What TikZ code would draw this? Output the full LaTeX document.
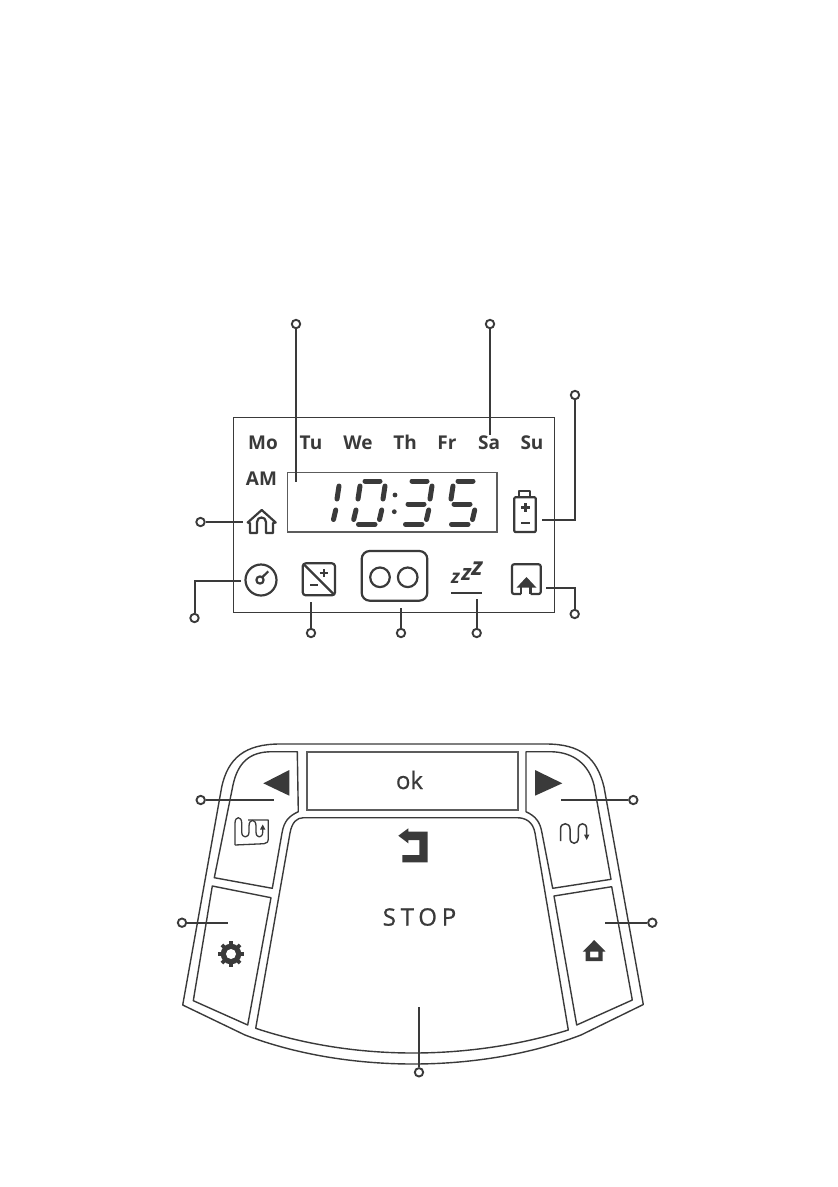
\documentclass[tikz,border=0pt]{standalone}
\usepackage{fontspec}
\setmainfont{Open Sans}
\newfontfamily\stopfont[LetterSpace=20,FakeBold=0.9]{Open Sans}
\newfontfamily\okfont[FakeBold=0.6]{Open Sans}
\usetikzlibrary{
arrows.meta,
positioning,
calc
}
\definecolor{PanelInk}{HTML}{3A3A3A}
\definecolor{PanelGray}{HTML}{5C5C5C}
\tikzset{
callout/.style={circle, draw=PanelInk, fill=white, line width=1.9pt, minimum size=8.4pt, inner sep=0pt},
leader/.style={draw=PanelInk, line width=2pt},
dayname/.style={font=\fontsize{19}{19}\selectfont\bfseries, text=PanelInk, inner sep=0pt, anchor=base},
panelline/.style={draw=PanelInk, line width=1.4pt, line join=round},
iconline/.style={draw=PanelInk, line width=2.2pt, line join=round},
lcdseg/.style={draw=PanelInk, line width=5pt, line cap=round},
snooze/.style={text=PanelInk, inner sep=0pt}
}
\newcommand{\sega}{\draw[lcdseg] (365,481) -- (380,481);}
\newcommand{\segb}{\draw[lcdseg] (385,486) -- (383,499);}
\newcommand{\segc}{\draw[lcdseg] (381.7,510) -- (379.5,519.5);}
\newcommand{\segd}{\draw[lcdseg] (358.5,524.2) -- (375,524.2);}
\newcommand{\sege}{\draw[lcdseg] (356,510) -- (353.7,519.5);}
\newcommand{\segf}{\draw[lcdseg] (360,486) -- (358,499);}
\newcommand{\segg}{\draw[lcdseg] (361,504) -- (377,504);}
\begin{document}
\begin{tikzpicture}[x=1pt, y=-1pt]
\useasboundingbox (0,0) rectangle (838,1187);

% display frame
\node[draw=PanelInk, line width=1.3pt, minimum width=321pt, minimum height=195pt, inner sep=0pt] (frame) at (393.8,514.8) {};
\node[draw=PanelGray, line width=1.6pt, minimum width=209.4pt, minimum height=59.3pt, inner sep=0pt] (lcd) at (392,502.3) {};

\node[dayname] (mo) at (263,449.7) {Mo};
\node[dayname] (tu) at (311,449.7) {Tu};
\node[dayname] (we) at (358,449.7) {We};
\node[dayname] (th) at (405,449.7) {Th};
\node[dayname] (fr) at (447,449.7) {Fr};
\node[dayname] (sa) at (489,449.7) {Sa};
\node[dayname] (su) at (532,449.7) {Su};
\node[dayname] (am) at (261.5,485.7) {AM};

% digits
\begin{scope}[xshift=-46pt]
\segb \segc
\end{scope}
\sega \segb \segc \segd \sege \segf
\begin{scope}[xshift=47pt]
\sega \segb \segc \segd \segg
\end{scope}
\begin{scope}[xshift=93pt]
\sega \segc \segd \segf \segg
\end{scope}
\fill[PanelInk] (395,495) circle[radius=2.4pt] (394.3,511.7) circle[radius=2.4pt];

% house outline
\draw[iconline] (250,533) -- (250,523) -- (247.7,522.5) -- (261.7,510) -- (275.7,522.5) -- (273,523) -- (273,533) -- (266,533) -- (266,522) .. controls (266,516) and (257,516) .. (257,522) -- (257,533) -- cycle;
% gauge
\draw[iconline] (261,580) circle[radius=15.5pt];
\draw[iconline] (260,580) circle[radius=3.6pt];
\draw[iconline] (262.5,577) -- (268.3,571.3);
% contrast
\draw[iconline, rounded corners=3pt] (302.7,563.3) rectangle (335,595.3);
\draw[iconline] (303.5,564) -- (334.5,595);
\draw[PanelInk, line width=2pt] (319.5,573.3) -- (327.5,573.3) (323.5,569.3) -- (323.5,577.3);
\draw[PanelInk, line width=2pt] (310,585) -- (318,585);
% eco button
\draw[iconline, rounded corners=8pt] (361.7,551) rectangle (427.3,600.7);
\draw[iconline] (380,577.3) circle[radius=9.8pt];
\draw[iconline] (407.7,577.3) circle[radius=9.8pt];
% snooze
\node[snooze, font=\fontsize{19}{19}\selectfont\itshape\bfseries] (zone) at (455.5,578.5) {z};
\node[snooze, font=\fontsize{22}{22}\selectfont\itshape\bfseries] (ztwo) at (466.5,574) {z};
\node[snooze, font=\fontsize{25}{25}\selectfont\itshape\bfseries] (zthree) at (477,569) {z};
\draw[iconline] (451,592.7) -- (481.7,592.7);
% battery
\draw[iconline, rounded corners=1pt] (514.3,497.3) rectangle (535.7,532);
\draw[iconline] (519.3,497.3) -- (519.3,490.7) -- (530.3,490.7) -- (530.3,497.3);
\draw[PanelInk, line width=2.6pt] (521,507.7) -- (529.6,507.7) (525.3,503.4) -- (525.3,512);
\draw[PanelInk, line width=2.6pt] (521,523) -- (529.6,523);
% away icon
\draw[iconline, rounded corners=2pt] (521,594) -- (512,594) -- (512,564.3) -- (540.7,564.3) -- (540.7,594) -- (530.5,594);
\fill[PanelInk] (526.5,577) -- (536.5,587.7) -- (516.5,587.7) -- cycle;
\draw[iconline] (521,587) -- (521,594) (530.5,587) -- (530.5,594);

% callouts for the display
\node[callout] (callLcd) at (296,324) {};
\node[callout] (callDay) at (490,324) {};
\node[callout] (callBatt) at (575,395) {};
\node[callout] (callHome) at (200.5,522) {};
\node[callout] (callGauge) at (194.5,618) {};
\node[callout] (callCont) at (311,633) {};
\node[callout] (callEco) at (401,633) {};
\node[callout] (callZzz) at (476.7,633) {};
\node[callout] (callAway) at (574.7,614) {};
\coordinate (endLcd) at (296,482);
\coordinate (endDay) at (490,435);
\coordinate (endBatt) at (541.7,519.7);
\coordinate (endHome) at (243,522);
\coordinate (endGauge) at (241,580.5);
\coordinate (endCont) at (311,602);
\coordinate (endEco) at (401,608);
\coordinate (endZzz) at (476.7,599);
\coordinate (endAway) at (546,587.5);
\draw[leader] (callLcd) -- (endLcd);
\draw[leader] (callDay) -- (endDay);
\draw[leader] (callBatt) |- (endBatt);
\draw[leader] (callHome) -- (endHome);
\draw[leader] (callGauge) |- (endGauge);
\draw[leader] (callCont) -- (endCont);
\draw[leader] (callEco) -- (endEco);
\draw[leader] (callZzz) -- (endZzz);
\draw[leader] (callAway) |- (endAway);

% keypad outline
\draw[panelline] (280,744) -- (546,744) .. controls (581,744) and (597,758) .. (604,787) -- (643.3,1004.5)
  -- (581,1035) .. controls (526,1056) and (466,1064) .. (413,1064) .. controls (360,1064) and (300,1056) .. (245,1035)
  -- (182.7,1005) -- (221.7,787) .. controls (228,758) and (245,744) .. (280,744) -- cycle;
% left keys
\draw[panelline] (297.3,751.7) -- (272,751.7) .. controls (250,751.7) and (238,762) .. (233,785) -- (214.3,877.7) -- (272.3,888.3)
  -- (282,833) .. controls (284,821) and (289,816) .. (298.3,811.7) -- cycle;
\draw[panelline] (212.3,886) -- (271,897.7) -- (247.7,1025) -- (193.3,1000.7) -- cycle;
% right keys
\draw[panelline] (526,751.7) -- (550,751.7) .. controls (574,751.7) and (589,765) .. (594,785) -- (611,879.3) -- (552.7,888.3)
  -- (542,833) .. controls (540,821) and (535,816) .. (526,811.7) -- cycle;
\draw[panelline] (554,896) -- (611.7,886.7) -- (632.3,1000) -- (576.7,1025) -- cycle;
% ok key
\node[draw=PanelGray, line width=1.7pt, minimum width=211.6pt, minimum height=58.3pt, inner sep=0pt] (okkey) at (412.5,780.8) {};
\node[text=PanelInk, font=\fontsize{24}{24}\selectfont\okfont, inner sep=0pt] (oktext) at (409.5,780) {ok};
% stop key
\draw[panelline] (303.5,817.7) -- (516.7,817.7) .. controls (526,817.7) and (533,822) .. (535,833)
  -- (568.3,1030) .. controls (520,1045) and (466,1053) .. (413,1053) .. controls (360,1053) and (306,1045) .. (255.7,1028.3)
  -- (290,833) .. controls (292,822) and (297,817.7) .. (303.5,817.7) -- cycle;
\node[text=PanelInk, font=\fontsize{24}{24}\selectfont\stopfont, inner sep=0pt] (stoptext) at (419.5,917) {STOP};
% key glyphs
\fill[PanelInk] (263.3,783.3) -- (289.3,770) -- (289.3,795.7) -- cycle;
\fill[PanelInk] (562.3,783.3) -- (535,770) -- (535,795.7) -- cycle;
\fill[PanelInk] (398.3,835.7) -- (408.3,828.3) -- (408.3,831.7) -- (427.7,831.7) -- (427.7,862.3) -- (402.3,862.3) -- (402.3,855) -- (419.3,855) -- (419.3,840) -- (408.3,840) -- (408.3,843.3) -- cycle;
% cycle icons
\draw[PanelInk, line width=1.3pt, line join=round] (235,845) -- (235,823) .. controls (235,816) and (241.7,816) .. (241.7,823) -- (241.7,832) .. controls (241.7,838.5) and (249,838.5) .. (249,832) -- (249,826) .. controls (249,818.5) and (256,818.5) .. (256,826) -- (256,832) .. controls (256,838.5) and (262.7,838.5) .. (262.7,832) -- (262.7,828);
\draw[PanelInk, line width=1.3pt, line join=round] (248,820) -- (268.3,820) -- (268.3,838) .. controls (268.3,842) and (267,843.5) .. (264,843.7) -- (235,845);
\fill[PanelInk] (262.7,824.5) -- (265.4,829.5) -- (260,829.5) -- cycle;
\draw[PanelInk, line width=1.5pt] (560.5,841) -- (560.5,829) .. controls (560.5,822) and (570,822) .. (570,829) -- (570,838) .. controls (570,845) and (578.3,845) .. (578.3,838) -- (578.3,829) .. controls (578.3,822) and (586.7,822) .. (586.7,829) -- (586.7,835);
\fill[PanelInk] (586.7,840) -- (584,834.5) -- (589.4,834.5) -- cycle;
% gear
\fill[PanelInk] (231,954) circle[radius=10.3pt];
\foreach \toothangle in {0,45,...,315}
  \draw[PanelInk, line width=3.8pt] (231,954) -- ($(231,954)+(\toothangle:12.8pt)$);
\fill[white] (231,954) circle[radius=5pt];
% filled house
\fill[PanelInk, even odd rule] (594.2,940) -- (605.7,951.7) -- (602.7,951.7) -- (602.7,961) -- (585.7,961) -- (585.7,951.7) -- (582.7,951.7) -- cycle
  (590,951.7) -- (598.4,951.7) -- (598.4,957.3) -- (590,957.3) -- cycle;

% callouts for the keypad
\node[callout] (callPrev) at (200.7,800) {};
\node[callout] (callNext) at (633.3,800) {};
\node[callout] (callGear) at (182,922.7) {};
\node[callout] (callMenu) at (652.3,922.7) {};
\node[callout] (callStop) at (419,1072.3) {};
\coordinate (endPrev) at (274,800);
\coordinate (endNext) at (561,800);
\coordinate (endGear) at (227.7,922.7);
\coordinate (endMenu) at (605,922.7);
\coordinate (endStop) at (419,1007.3);
\draw[leader] (callPrev) -- (endPrev);
\draw[leader] (callNext) -- (endNext);
\draw[leader] (callGear) -- (endGear);
\draw[leader] (callMenu) -- (endMenu);
\draw[leader] (callStop) -- (endStop);
\end{tikzpicture}
\end{document}
